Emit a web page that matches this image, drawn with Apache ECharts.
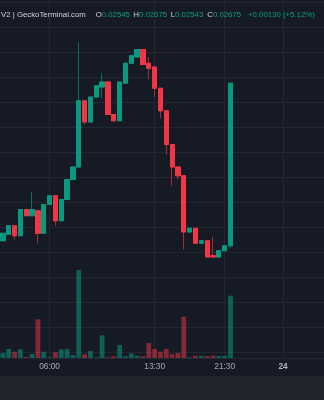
<!DOCTYPE html>
<html><head><meta charset="utf-8">
<script src="https://cdn.jsdelivr.net/npm/echarts@6/dist/echarts.min.js"></script>
<style>html,body{margin:0;padding:0;background:#161a25;}#c{width:324px;height:400px;}</style>
</head><body><div id="c"></div>
<script>
// ---- data (15-minute candles) ----
const opens  = [0.02549,0.02554,0.02561,0.02553,0.02574,0.02569,0.02573,0.02555,0.02578,0.02585,
                0.02565,0.02582,0.02598,0.02608,0.02661,0.02644,0.02664,0.02672,0.02676,0.02650,
                0.02645,0.02675,0.02691,0.02696,0.02702,0.02691,0.02688,0.02671,0.02653,0.02626,
                0.02608,0.02601,0.02556,0.02559,0.02547,0.02549,0.02537,0.02536,0.02541,0.02545];
const closes = [0.02555,0.02561,0.02553,0.02574,0.02569,0.02574,0.02555,0.02578,0.02585,0.02565,
                0.02582,0.02598,0.02608,0.02661,0.02644,0.02664,0.02673,0.02676,0.02650,0.02645,
                0.02676,0.02691,0.02697,0.02702,0.02690,0.02687,0.02671,0.02653,0.02626,0.02608,
                0.02601,0.02556,0.02559,0.02547,0.02549,0.02536,0.02536,0.02541,0.02545,0.02675];
const lows   = [0.02549,0.02554,0.02550,0.02553,0.02569,0.02569,0.02547,0.02555,0.02578,0.02561,
                0.02565,0.02582,0.02598,0.02608,0.02642,0.02644,0.02664,0.02663,0.02650,0.02645,
                0.02645,0.02675,0.02691,0.02696,0.02690,0.02678,0.02664,0.02647,0.02618,0.02593,
                0.02598,0.02542,0.02556,0.02547,0.02547,0.02536,0.02536,0.02536,0.02541,0.02543];
const highs  = [0.02555,0.02561,0.02561,0.02574,0.02574,0.02588,0.02573,0.02578,0.02585,0.02585,
                0.02582,0.02598,0.02608,0.02708,0.02661,0.02664,0.02673,0.02683,0.02676,0.02650,
                0.02676,0.02691,0.02697,0.02702,0.02702,0.02696,0.02688,0.02671,0.02653,0.02626,
                0.02608,0.02601,0.02559,0.02559,0.02549,0.02549,0.02552,0.02541,0.02545,0.02675];
const volumes = [500,900,630,870,100,400,3870,630,70,570,
                 870,900,300,8800,370,700,70,2270,70,170,
                 1300,170,470,230,170,1500,900,630,900,370,
                 500,4130,70,230,200,170,230,200,230,6230];
const slotCount = 56;                       // visible bar slots incl. empty future ones
const tickIndex  = [8, 26, 38, 48];
const tickLabels = ['06:00', '13:30', '21:30', '24'];
const dayLabels  = ['24'];
const legendTitle = 'V2 | GeckoTerminal.com';
const legendChange = '+0.00130 (+5.12%)';
const priceMin = 0.0246, priceMax = 0.0274, priceStep = 0.0002;
const volumeMax = 35800;

// ---- styles ----
const BG = '#161a25', GRID = '#232733';
const UP = '#089981', DOWN = '#f23645';
const UP_WICK = '#0c6e5f', DOWN_WICK = '#a42b37';
const UP_VOL = 'rgba(8,153,129,0.55)', DOWN_VOL = 'rgba(242,54,69,0.5)';
const FONT = '"Liberation Sans", Arial, sans-serif';
const LEG_TXT = '#d1d4dc', LEG_VAL = '#0a9e86';

const n = opens.length;
const categories = Array.from({length: slotCount}, (_, i) => String(i));
const full = categories.map((_, i) => i < n ? [opens[i], closes[i], lows[i], highs[i]] : '-');
const body = categories.map((_, i) => i < n ?
  [opens[i], closes[i], Math.min(opens[i], closes[i]), Math.max(opens[i], closes[i])] : '-');
const vol = categories.map((_, i) => i < n ? {
  value: volumes[i],
  itemStyle: {color: closes[i] >= opens[i] ? UP_VOL : DOWN_VOL}
} : '-');
const lastClose = closes[n - 1];
const isTick = (idx) => tickIndex.indexOf(idx) >= 0;

const f5 = v => v.toFixed(5);
const legendParts = [
  {t: legendTitle, x: 1},
  {t: 'O{v|' + f5(opens[n-1]) + '}', x: 95.7},
  {t: 'H{v|' + f5(highs[n-1]) + '}', x: 133.3},
  {t: 'L{v|' + f5(lows[n-1]) + '}', x: 170.7},
  {t: 'C{v|' + f5(closes[n-1]) + '}', x: 207.3},
  {t: '{v|' + legendChange + '}', x: 248}
];

const chart = echarts.init(document.getElementById('c'), null, {renderer: 'canvas'});
chart.setOption({
  backgroundColor: BG,
  animation: false,
  grid: [
    {left: 0, right: 0, top: 2, bottom: 48},
    {left: 2.9, right: 0.1, top: 2, bottom: 48},
    {left: 2.9, right: 0.1, top: 0, bottom: 42}
  ],
  xAxis: [
    {gridIndex: 0, type: 'value', show: false, min: 0, max: 1},
    {gridIndex: 1, type: 'category', data: categories, boundaryGap: false, show: false},
    {gridIndex: 2, type: 'category', data: categories, boundaryGap: false,
     axisLine: {show: true, lineStyle: {color: GRID}},
     axisTick: {show: false},
     axisLabel: {
       interval: (idx) => isTick(idx), margin: 5, color: '#a6a9b2',
       fontSize: 8.3, fontFamily: FONT,
       formatter: (val, idx) => {
         const k = tickIndex.indexOf(Number(val));
         if (k < 0) return '';
         const s = tickLabels[k];
         return dayLabels.indexOf(s) >= 0 ? '{d|' + s + '}' : s;
       },
       rich: {d: {fontWeight: 'bold', fontSize: 8.3, fontFamily: FONT, color: '#b3b6bf'}}
     },
     splitLine: {show: true, interval: (idx) => isTick(idx), lineStyle: {color: GRID, width: 1}}
    }
  ],
  yAxis: [
    {gridIndex: 0, type: 'value', min: priceMin, max: priceMax, interval: priceStep,
     axisLine: {show: false}, axisTick: {show: false}, axisLabel: {show: false},
     splitLine: {show: true, lineStyle: {color: GRID, width: 1}}},
    {gridIndex: 1, type: 'value', min: priceMin, max: priceMax, interval: priceStep, show: false,
     splitLine: {show: false}},
    {gridIndex: 2, type: 'value', min: 0, max: volumeMax, show: false, splitLine: {show: false}}
  ],
  series: [
    {type: 'bar', xAxisIndex: 2, yAxisIndex: 2, data: vol, barWidth: 4.8, clip: false, z: 1},
    {type: 'candlestick', xAxisIndex: 1, yAxisIndex: 1, data: full, barWidth: 4.8, clip: false, z: 2,
     itemStyle: {color: UP_WICK, color0: DOWN_WICK, borderColor: UP_WICK, borderColor0: DOWN_WICK, borderWidth: 1}},
    {type: 'candlestick', xAxisIndex: 1, yAxisIndex: 1, data: body, barWidth: 4.8, clip: false, z: 3,
     itemStyle: {color: UP, color0: DOWN, borderColor: UP, borderColor0: DOWN, borderWidth: 1},
     markLine: {silent: true, symbol: ['none', 'none'], label: {show: false},
       lineStyle: {color: '#17564e', type: [1, 1], width: 1},
       data: [{yAxis: lastClose}]}}
  ],
  graphic: [
    {type: 'rect', left: 0, top: 376, shape: {width: 324, height: 24}, style: {fill: '#21242c'}, z: -1}
  ].concat(legendParts.map(p => ({
    type: 'text', left: p.x, top: 11, z: 10,
    style: {text: p.t, fill: LEG_TXT, font: '7.8px ' + FONT,
            rich: {v: {fill: LEG_VAL, font: '7.8px ' + FONT}}}
  })))
});
</script>
</body></html>
